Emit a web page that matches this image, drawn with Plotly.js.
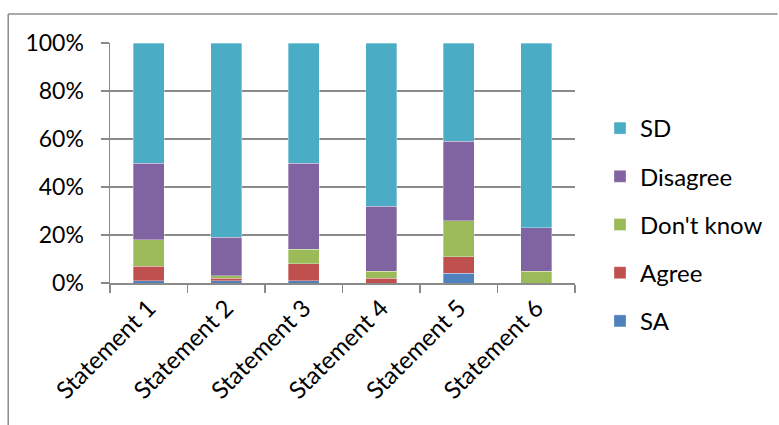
<!DOCTYPE html>
<html>
<head>
<meta charset="utf-8">
<script src="https://cdn.plot.ly/plotly-3.0.1.min.js"></script>
<style>
  html, body { margin: 0; padding: 0; background: #ffffff; }
  #chart { width: 779px; height: 425px; }
</style>
</head>
<body>
<div id="chart"></div>
<script>
// Response shares (%) per statement
const statements = ["Statement 1", "Statement 2", "Statement 3", "Statement 4", "Statement 5", "Statement 6"];
const sa        = [1, 1, 1, 0, 4, 0];
const agree     = [6, 1, 7, 2, 7, 0];
const dontKnow  = [11, 1, 6, 3, 15, 5];
const disagree  = [32, 16, 36, 27, 33, 18];
const sd        = [50, 81, 50, 68, 41, 77];
const yTicks    = [0, 20, 40, 60, 80, 100];

const W = 779, H = 425;
const M = { l: 110, r: 203, t: 43, b: 142 };
const plotW = W - M.l - M.r, plotH = H - M.t - M.b;
const px = x => (x - M.l) / plotW;          // pixel -> paper x
const py = y => (H - M.b - y) / plotH;      // pixel -> paper y

const FONT = "Lato, 'Open Sans', sans-serif";
const GRID = "#8a8a8a";

// stacked bottom-to-top in array order; legend lists top segment first
function series(name, vals, color, rank) {
  return {
    type: "bar", name: name, x: statements, y: vals,
    legendgroup: name,
    legendrank: rank,
    marker: { color: color, line: { color: "rgba(255,255,255,0.55)", width: 0.6 } },
    hoverinfo: "x+y+name"
  };
}

const data = [
  series("SA", sa, "#4F81BD", 5),
  series("Agree", agree, "#C0504D", 4),
  series("Don't know", dontKnow, "#9BBB59", 3),
  series("Disagree", disagree, "#8064A2", 2),
  series("SD", sd, "#4BACC6", 1)
];

const layout = {
  width: W, height: H,
  margin: M,
  paper_bgcolor: "#ffffff", plot_bgcolor: "#ffffff",
  barmode: "stack",
  bargap: 0.6,
  font: { family: FONT, size: 24, color: "#000000" },
  showlegend: true,
  legend: {
    traceorder: "grouped",
    x: px(600), xanchor: "left",
    y: py(106), yanchor: "top",
    tracegroupgap: 14,
    itemwidth: 30,
    font: { family: FONT, size: 24, color: "#000000" },
    bgcolor: "rgba(0,0,0,0)"
  },
  xaxis: {
    type: "category",
    showline: true, linecolor: GRID, linewidth: 1.5,
    ticks: "outside", tickson: "boundaries", ticklen: 8, tickcolor: GRID, tickwidth: 1.5,
    tickangle: -45,
    tickfont: { family: FONT, size: 24, color: "#000000" },
    showgrid: false, zeroline: false
  },
  yaxis: {
    range: [0, 100],
    tickvals: yTicks,
    ticktext: yTicks.map(v => v + "%"),
    showline: true, linecolor: GRID, linewidth: 1.5,
    ticks: "outside", ticklen: 8, tickcolor: GRID, tickwidth: 1.5,
    ticklabelstandoff: 12,
    showgrid: true, gridcolor: GRID, gridwidth: 1.5,
    zeroline: false,
    tickfont: { family: FONT, size: 23, color: "#000000" }
  },
  shapes: [
    // chart frame: top and left edges
    { type: "line", xref: "paper", yref: "paper", x0: px(8), x1: px(W), y0: py(14), y1: py(14),
      line: { color: "#8c8c8c", width: 1.5 } },
    { type: "line", xref: "paper", yref: "paper", x0: px(8), x1: px(8), y0: py(14), y1: py(H),
      line: { color: "#8c8c8c", width: 1.5 } }
  ]
};

Plotly.newPlot("chart", data, layout, { displayModeBar: false, staticPlot: true });
</script>
</body>
</html>
